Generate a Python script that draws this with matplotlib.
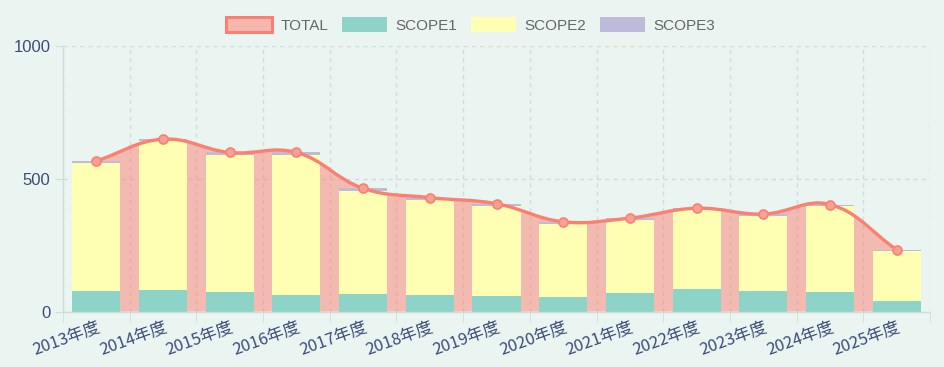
import numpy as np
import matplotlib
matplotlib.use("Agg")
import matplotlib.pyplot as plt
from matplotlib.path import Path
from matplotlib.patches import PathPatch, Patch

plt.rcParams['font.family'] = ['Noto Sans CJK JP', 'DejaVu Sans']

years = ["2013年度", "2014年度", "2015年度", "2016年度", "2017年度", "2018年度", "2019年度",
         "2020年度", "2021年度", "2022年度", "2023年度", "2024年度", "2025年度"]
scope1 = [77, 82, 74, 64, 65, 64, 58, 53, 69, 84, 79, 73, 38]
scope2 = [482, 560, 516, 526, 387, 355, 341, 278, 277, 297, 282, 323, 188]
scope3 = [8, 7, 9, 9, 12, 10, 7, 7, 6, 8, 6, 7, 7]
total = [567, 649, 599, 599, 464, 429, 406, 338, 352, 389, 367, 403, 233]
y_ticks = [0, 500, 1000]

BG = '#eaf5f2'
C1, C2, C3, CT = '#8dd3c7', '#ffffb3', '#bebada', '#fb8072'
GRID = '#cfdcd9'
TICK_C = '#3d4b7a'

W, H = 945, 367
fig = plt.figure(figsize=(W / 100, H / 100), dpi=100, facecolor=BG)
L, R, B, T = 63, 930, 311.5, 46
ax = fig.add_axes([L / W, (H - B) / H, (R - L) / W, (B - T) / H], facecolor=BG)

n = len(years)
x = np.arange(n)
ax.set_xlim(-0.5, n - 0.5)
ax.set_ylim(0, 1000)

# smooth total line (Chart.js-like spline, tension 0.4), computed in pixel space
px_per_x = (R - L) / n
px_per_y = (B - T) / 1000.0
pts = np.column_stack([x * px_per_x, np.array(total, float) * px_per_y])
tension = 0.4
ctrl_prev, ctrl_next = [], []
for i in range(n):
    prev = pts[i - 1] if i > 0 else pts[i]
    cur = pts[i]
    nxt = pts[i + 1] if i < n - 1 else pts[i]
    d01 = np.hypot(*(cur - prev))
    d12 = np.hypot(*(nxt - cur))
    s = d01 + d12
    s01 = d01 / s if s else 0
    s12 = d12 / s if s else 0
    ctrl_prev.append(cur - tension * s01 * (nxt - prev))
    ctrl_next.append(cur + tension * s12 * (nxt - prev))

def to_data(p):
    return (p[0] / px_per_x, p[1] / px_per_y)

verts = [to_data(pts[0])]
codes = [Path.MOVETO]
for i in range(n - 1):
    verts += [to_data(ctrl_next[i]), to_data(ctrl_prev[i + 1]), to_data(pts[i + 1])]
    codes += [Path.CURVE4] * 3
line_path = Path(verts, codes)

fill_verts = verts + [(x[-1], 0), (x[0], 0), verts[0]]
fill_codes = codes + [Path.LINETO, Path.LINETO, Path.CLOSEPOLY]
ax.add_patch(PathPatch(Path(fill_verts, fill_codes), facecolor=CT, alpha=0.5,
                       edgecolor='none', zorder=1.5))

bw = 0.72
ax.bar(x, scope1, width=bw, color=C1, zorder=2)
ax.bar(x, scope2, width=bw, bottom=scope1, color=C2, zorder=2)
ax.bar(x, scope3, width=bw, bottom=np.array(scope1) + np.array(scope2), color=C3, zorder=2)

ax.add_patch(PathPatch(line_path, facecolor='none', edgecolor=CT, lw=2.4, zorder=3,
                       capstyle='round', joinstyle='round'))
ax.plot(x, total, linestyle='none', marker='o', markersize=6.5,
        markerfacecolor='#f9a094', markeredgecolor=CT, markeredgewidth=1.2, zorder=4)

# axes styling
for s in ['top', 'right']:
    ax.spines[s].set_visible(False)
for s in ['left', 'bottom']:
    ax.spines[s].set_color(GRID)
    ax.spines[s].set_linewidth(1.0)

ax.set_yticks(y_ticks)
ax.set_yticklabels([str(v) for v in y_ticks], fontsize=12, color=TICK_C,
                   family=['Liberation Sans', 'DejaVu Sans'])
ax.tick_params(axis='y', length=6, color=GRID, pad=3)
ax.yaxis.grid(True, linestyle=(0, (3, 3)), color=GRID, lw=1.0, zorder=0)

ax.set_xticks(x)
ax.set_xticklabels(years, fontsize=12, color=TICK_C, rotation=20, ha='right',
                   rotation_mode='anchor')
ax.tick_params(axis='x', which='major', length=0, pad=5)
ax.set_xticks(np.arange(n + 1) - 0.5, minor=True)
ax.tick_params(axis='x', which='minor', length=7, color=GRID)
ax.xaxis.grid(True, which='minor', linestyle=(0, (3, 3)), color=GRID, lw=1.0, zorder=0)
ax.set_axisbelow(True)

handles = [Patch(facecolor='#f4b8b0', edgecolor=CT, linewidth=2.2, label='TOTAL'),
           Patch(facecolor=C1, edgecolor='none', label='SCOPE1'),
           Patch(facecolor=C2, edgecolor='none', label='SCOPE2'),
           Patch(facecolor=C3, edgecolor='none', label='SCOPE3')]
leg = fig.legend(handles=handles, loc='center', bbox_to_anchor=(471 / W, 1 - 25 / H),
                 ncol=4, frameon=False, handlelength=3.0, handleheight=1.1,
                 handletextpad=0.55, columnspacing=0.85, borderaxespad=0,
                 prop={'family': ['Liberation Sans', 'DejaVu Sans'], 'size': 11})
for t in leg.get_texts():
    t.set_color('#666666')

fig.savefig('out.png', dpi=100, facecolor=BG)
